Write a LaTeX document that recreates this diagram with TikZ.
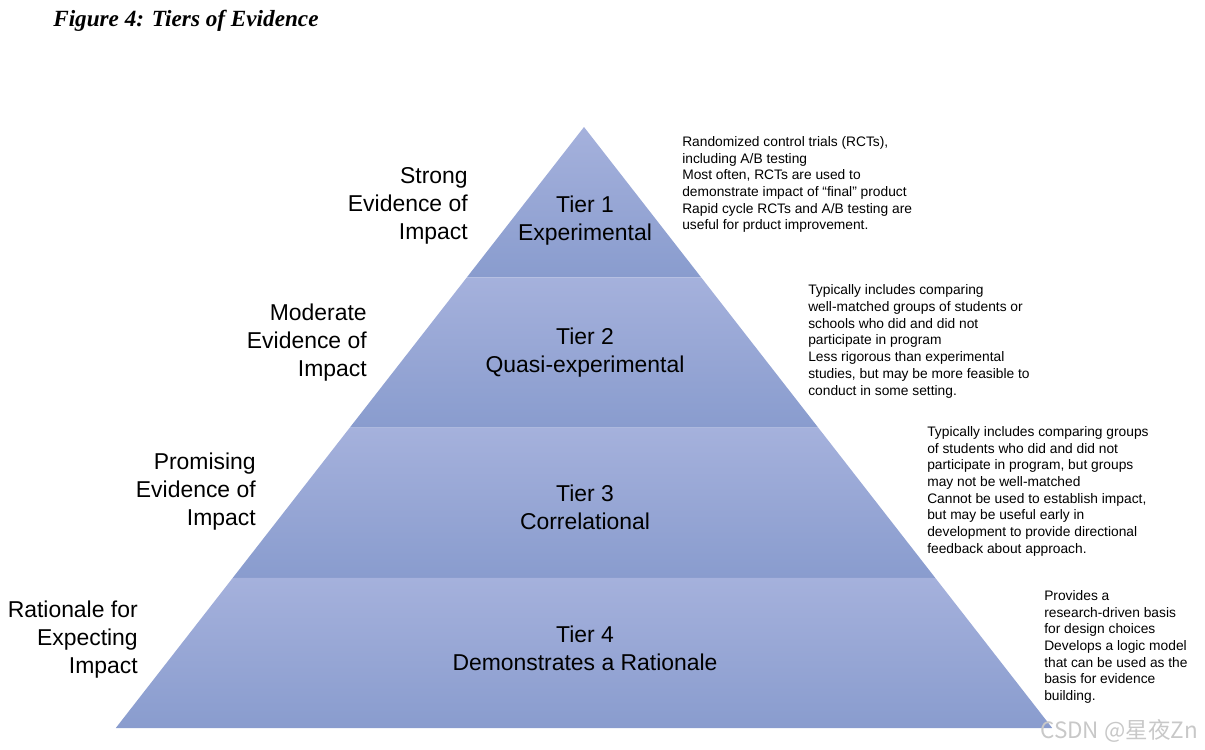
\documentclass[tikz,border=0pt]{standalone}
\usepackage{fontspec}
\setmainfont{Liberation Sans}
\newfontfamily\titlefont{Liberation Serif}
\newfontfamily\cjkfont{Noto Sans CJK SC}
\usepackage{xcolor}
\usepackage{tikz}
\usetikzlibrary{calc}
\definecolor{tiertop}{HTML}{A5B1DC}
\definecolor{tierbot}{HTML}{899CCE}
\definecolor{marktext}{HTML}{C8C8C8}
\newcommand{\tiersize}{\fontsize{16.3}{19.9}\selectfont}
\newcommand{\notesize}{\fontsize{9.8}{11.9}\selectfont}

\begin{document}
\begin{tikzpicture}[
  x=0.025cm, y=-0.025cm,
  tier/.style={top color=tiertop, bottom color=tierbot, draw=none},
  tiername/.style={font=\tiersize, align=center, inner sep=0pt},
  level/.style={font=\tiersize, align=right, anchor=east, inner sep=0pt},
  note/.style={font=\notesize, align=left, anchor=north west, inner sep=0pt}
]
\useasboundingbox (0,0) rectangle (1205,750);
\node[anchor=west, inner sep=0pt, font=\titlefont\bfseries\itshape\fontsize{16.5}{19}\selectfont] (title) at (53,21) {Figure 4: Tiers of Evidence};

% pyramid
\coordinate (apex) at (584,127);
\coordinate (bl) at (115.8,728);
\coordinate (br) at (1052.2,728);
\coordinate (l1) at ($(apex)!0.25!(bl)$);
\coordinate (r1) at ($(apex)!0.25!(br)$);
\coordinate (l2) at ($(apex)!0.5!(bl)$);
\coordinate (r2) at ($(apex)!0.5!(br)$);
\coordinate (l3) at ($(apex)!0.75!(bl)$);
\coordinate (r3) at ($(apex)!0.75!(br)$);
\shade[tier] (apex) -- (r1) -- (l1) -- cycle;
\shade[tier] (l1) -- (r1) -- (r2) -- (l2) -- cycle;
\shade[tier] (l2) -- (r2) -- (r3) -- (l3) -- cycle;
\shade[tier] (l3) -- (r3) -- (br) -- (bl) -- cycle;

\node[tiername] (tier1) at (585,221) {Tier 1\\Experimental};
\node[tiername] (tier2) at (585,352.5) {Tier 2\\Quasi-experimental};
\node[tiername] (tier3) at (585,507.5) {Tier 3\\Correlational};
\node[tiername] (tier4) at (585,648) {Tier 4\\Demonstrates a Rationale};

\node[level] (strong) at (468,205.5) {Strong\\Evidence of\\Impact};
\node[level] (moderate) at (367,343) {Moderate\\Evidence of\\Impact};
\node[level] (promising) at (256,492) {Promising\\Evidence of\\Impact};
\node[level] (rationale) at (138,639.5) {Rationale for\\Expecting\\Impact};

\node[note] (note1) at (682,136) {Randomized control trials (RCTs),\\including A/B testing\\Most often, RCTs are used to\\demonstrate impact of “final” product\\Rapid cycle RCTs and A/B testing are\\useful for prduct improvement.};
\node[note] (note2) at (808,284.5) {Typically includes comparing\\well-matched groups of students or\\schools who did and did not\\participate in program\\Less rigorous than experimental\\studies, but may be more feasible to\\conduct in some setting.};
\node[note] (note3) at (927,426) {Typically includes comparing groups\\of students who did and did not\\participate in program, but groups\\may not be well-matched\\Cannot be used to establish impact,\\but may be useful early in\\development to provide directional\\feedback about approach.};
\node[note] (note4) at (1044,590) {Provides a\\research-driven basis\\for design choices\\Develops a logic model\\that can be used as the\\basis for evidence\\building.};

\node[anchor=west, inner sep=0pt, text=marktext, font=\cjkfont\fontsize{16}{19}\selectfont] (mark) at (1040,731) {CSDN @星夜Zn};
\end{tikzpicture}
\end{document}
